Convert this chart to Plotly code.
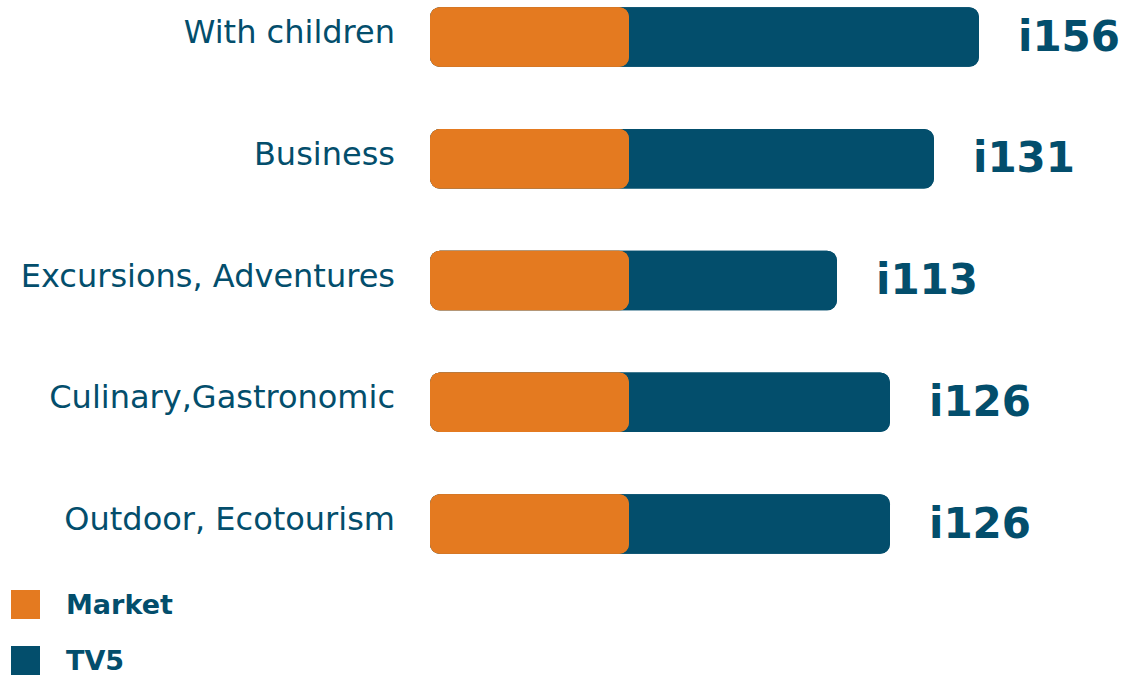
import plotly.graph_objects as go

# Travel interests: audience share of the market vs. TV5 viewers, with affinity index
categories = ["With children", "Business", "Excursions, Adventures",
              "Culinary,Gastronomic", "Outdoor, Ecotourism"]
market = [19.9, 19.9, 19.9, 19.9, 19.9]
tv5 = [54.9, 50.4, 40.7, 46.0, 46.0]
index_labels = ["i156", "i131", "i113", "i126", "i126"]
legend_names = ["Market", "TV5"]

ORANGE = "#E47A20"
BLUE = "#034E6C"
colors = [ORANGE, BLUE]

W, H = 1123, 676
ML, MR, MT, MB = 430, 0, 0, 91
PLOT_W = W - ML - MR
PLOT_H = H - MT - MB


def px_x(p):
    return (p - ML) / PLOT_W


def px_y(p):
    return 1 - (p - MT) / PLOT_H


fig = go.Figure()


def rounded_bar(values, color):
    # forward bar rounds the far end, reversed bar rounds the near end
    common = dict(y=categories, orientation="h", marker_color=color,
                  marker_line_width=0, marker_cornerradius=10, width=0.49,
                  showlegend=False, hoverinfo="skip")
    fig.add_trace(go.Bar(x=values, base=[0] * len(values), **common))
    fig.add_trace(go.Bar(x=[-v for v in values], base=values, **common))


rounded_bar(tv5, BLUE)
rounded_bar(market, ORANGE)

# affinity index next to each bar
for cat, v, lab in zip(categories, tv5, index_labels):
    fig.add_annotation(x=v, y=cat, text=f"<b>{lab}</b>", showarrow=False,
                       xanchor="left", yanchor="middle", xshift=37, yshift=1,
                       font=dict(family="DejaVu Sans", size=42, color=BLUE))

# legend: colour squares with bold names
legend_rows = [(590, 619), (646, 675)]
for name, color, (y0, y1) in zip(legend_names, colors, legend_rows):
    fig.add_shape(type="rect", xref="paper", yref="paper",
                  x0=px_x(11), x1=px_x(40), y0=px_y(y1), y1=px_y(y0),
                  fillcolor=color, line_width=0)
    fig.add_annotation(xref="paper", yref="paper", x=px_x(64),
                       y=px_y((y0 + y1) / 2), text=f"<b>{name}</b>",
                       showarrow=False, xanchor="left", yanchor="middle",
                       font=dict(family="DejaVu Sans", size=27, color=BLUE))

fig.update_layout(
    width=W, height=H,
    margin=dict(l=ML, r=MR, t=MT, b=MB),
    barmode="overlay",
    plot_bgcolor="white", paper_bgcolor="white",
    xaxis=dict(range=[0, PLOT_W / 10], visible=False, fixedrange=True),
    yaxis=dict(type="category", range=[4.501, -0.304], showgrid=False,
               zeroline=False, showline=False, ticks="",
               ticklabelstandoff=34, ticklabelshift=5,
               tickfont=dict(family="DejaVu Sans", size=32, color=BLUE)),
)

fig.write_html("out.html")
